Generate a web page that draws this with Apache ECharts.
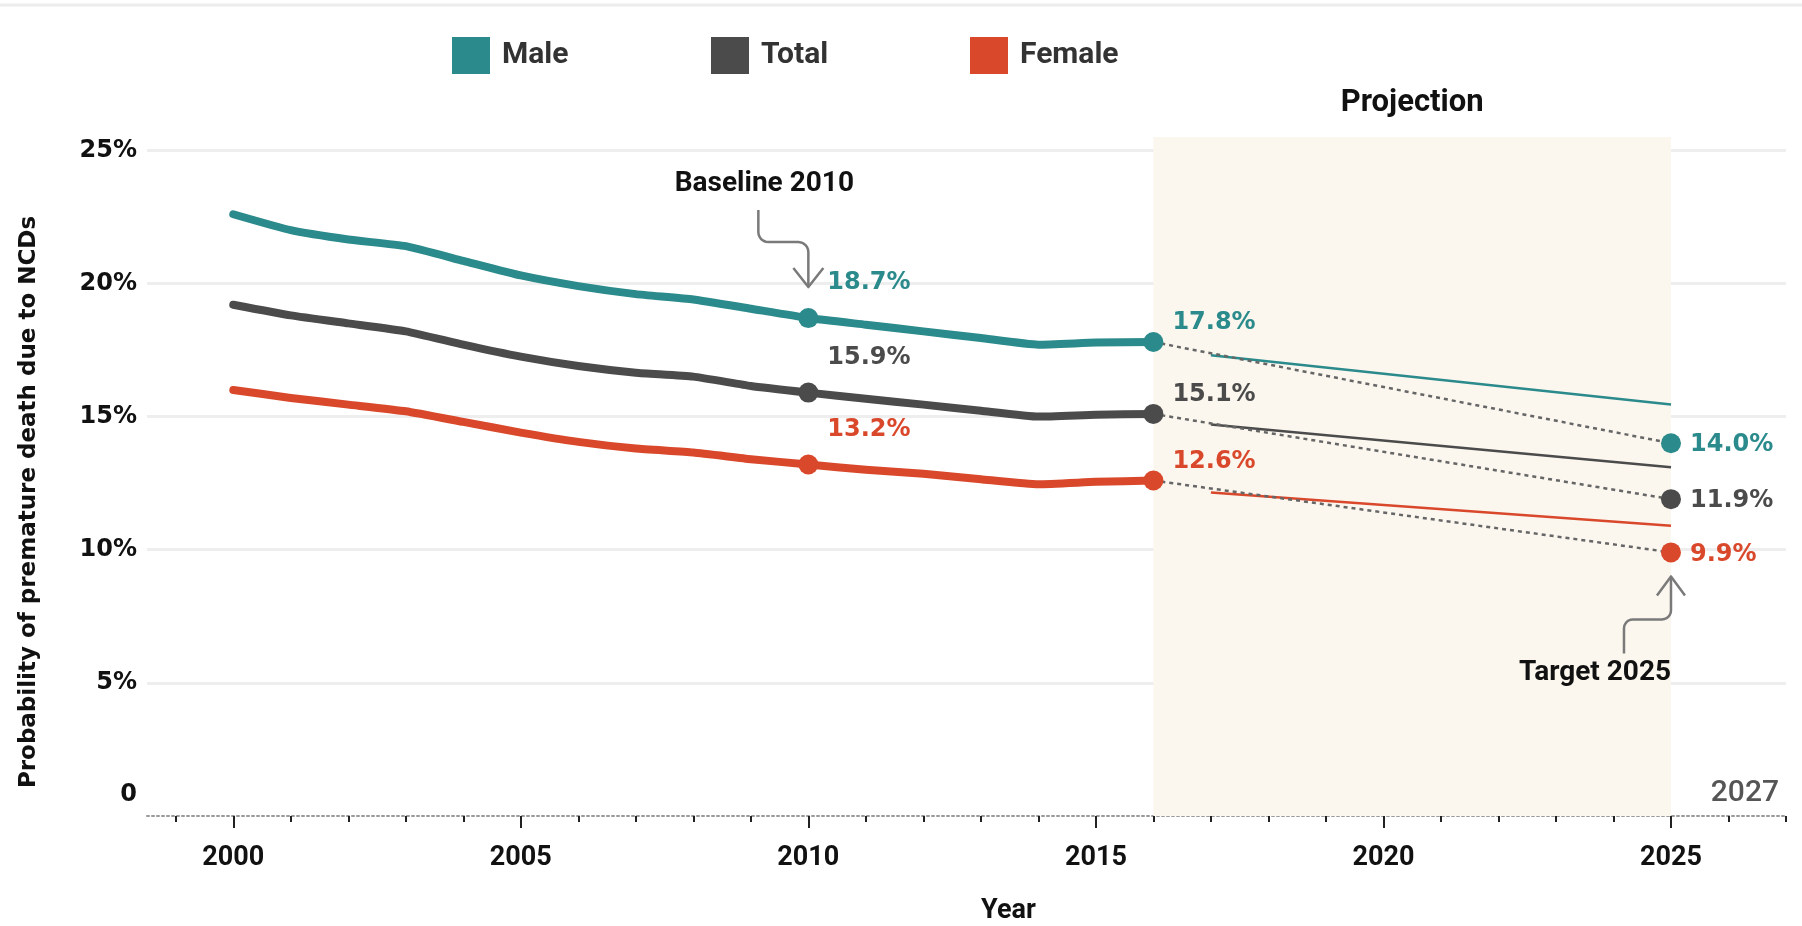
<!DOCTYPE html>
<html>
<head>
<meta charset="utf-8">
<script src="https://cdn.jsdelivr.net/npm/echarts@6/dist/echarts.min.js"></script>
<style>
html,body{margin:0;padding:0;background:#fff;}
#chart{width:1802px;height:926px;}
</style>
</head>
<body>
<div id="chart"></div>
<script>
// ---- data ----
const years = [2000,2001,2002,2003,2004,2005,2006,2007,2008,2009,2010,2011,2012,2013,2014,2015,2016];
const male   = [22.6,22.0,21.65,21.4,20.85,20.3,19.9,19.6,19.4,19.05,18.7,18.45,18.2,17.95,17.7,17.78,17.8];
const total  = [19.2,18.8,18.5,18.2,17.7,17.25,16.9,16.65,16.5,16.15,15.9,15.67,15.45,15.22,15.0,15.07,15.1];
const female = [16.0,15.7,15.45,15.2,14.8,14.4,14.05,13.8,13.65,13.4,13.2,13.0,12.85,12.65,12.46,12.55,12.6];
const projYears   = [2017, 2025];
const maleProj    = [17.3, 15.45];
const totalProj   = [14.7, 13.1];
const femaleProj  = [12.15, 10.9];
const markYears   = [2010, 2016, 2025];
const maleMarks   = [18.7, 17.8, 14.0];
const totalMarks  = [15.9, 15.1, 11.9];
const femaleMarks = [13.2, 12.6, 9.9];
const projStart = 2016, projEnd = 2025;
const majorYears = [2000,2005,2010,2015,2020,2025];
const minorYears = [1999,2001,2002,2003,2004,2006,2007,2008,2009,2011,2012,2013,2014,2016,2017,2018,2019,2021,2022,2023,2024,2026,2027];
const seriesNames = ['Male','Total','Female'];
const colors = {Male:'#2b8a8b', Total:'#4b4b4b', Female:'#d9482b'};

const COND = 'Roboto';
const WIDE = '"DejaVu Sans"';

const chart = echarts.init(document.getElementById('chart'));

function pairs(xs, ys){ return xs.map((x,i)=>[x, ys[i]]); }

const histData = {Male:male, Total:total, Female:female};
const projData = {Male:maleProj, Total:totalProj, Female:femaleProj};
const markData = {Male:maleMarks, Total:totalMarks, Female:femaleMarks};
const labelOffsets = [[0,-35],[0,-19],[0,2]];

const series = [];
// shaded projection area
series.push({
  name:'proj-area', type:'line', data:[], z:1, silent:true,
  markArea:{
    silent:true,
    itemStyle:{color:'#fbf7ef'},
    label:{show:true, position:'top', distance:18, color:'#111',
      fontFamily:COND, fontWeight:'bold', fontSize:31},
    data:[[{name:'Projection', xAxis:projStart},{xAxis:projEnd}]]
  }
});
seriesNames.forEach(n=>{
  series.push({
    name:n, type:'line', color:colors[n], z:4,
    data:pairs(years, histData[n]), symbol:'none', smooth:0.15,
    lineStyle:{width:8, color:colors[n], cap:'round', join:'round'}
  });
  series.push({
    name:n+' projection', type:'line', z:3,
    data:pairs(projYears, projData[n]), symbol:'none',
    lineStyle:{width:2.5, color:colors[n]}
  });
  const m = markData[n];
  series.push({
    name:n+' target path', type:'line', z:3,
    data:[[markYears[1], m[1]],[markYears[2], m[2]]], symbol:'none',
    lineStyle:{width:2.5, color:'#666', type:[4,4]}
  });
  series.push({
    name:n+' points', type:'scatter', z:5,
    symbolSize:20, itemStyle:{color:colors[n], opacity:1},
    data:markYears.map((y,i)=>({value:[y, m[i]], label:{offset:labelOffsets[i]}})),
    label:{show:true, position:'right', distance:9, color:colors[n],
      fontFamily:WIDE, fontWeight:'bold', fontSize:24,
      formatter:p=>p.value[1].toFixed(1)+'%'}
  });
});

const legendBase = {
  top:37, itemWidth:38, itemHeight:37, icon:'rect', itemGap:0, padding:0,
  textStyle:{fontFamily:COND, fontWeight:'bold', fontSize:30, color:'#333', padding:[4,0,0,7]}
};
const legendLefts = [452, 711, 970];

chart.setOption({
  animation:false,
  backgroundColor:'#fff',
  legend: seriesNames.map((n,i)=>Object.assign({}, legendBase, {data:[n], left:legendLefts[i]})),
  grid:{left:147, right:16, top:137, bottom:110, containLabel:false, outerBoundsMode:'none'},
  xAxis:[
    {type:'value', min:1998.5, max:2027,
      axisLine:{show:true, lineStyle:{color:'#9a9a9a', type:[2,3], width:2}},
      axisTick:{show:true, customValues:majorYears, length:12, lineStyle:{color:'#222', width:2}},
      axisLabel:{customValues:majorYears, margin:29, color:'#111',
        fontFamily:COND, fontWeight:'bold', fontSize:27, formatter:v=>String(v)},
      splitLine:{show:false},
      name:'Year', nameLocation:'middle', nameGap:82,
      nameTextStyle:{fontFamily:COND, fontWeight:'bold', fontSize:27, color:'#111', padding:[0,0,0,84]}
    },
    {type:'value', min:1998.5, max:2027, position:'bottom',
      axisLine:{show:false},
      axisTick:{show:true, customValues:minorYears, length:6, lineStyle:{color:'#222', width:2}},
      axisLabel:{show:false}, splitLine:{show:false}
    }
  ],
  yAxis:{type:'value', min:0, max:25.5, interval:5,
    axisLine:{show:false}, axisTick:{show:false},
    axisLabel:{margin:10, color:'#111', fontFamily:WIDE, fontWeight:'bold', fontSize:24,
      formatter:v=> v===0 ? '{z|0}' : (v%5===0 ? v+'%' : ''),
      rich:{z:{fontFamily:WIDE, fontWeight:'bold', fontSize:24, color:'#111', padding:[0,0,42,0]}}},
    splitLine:{show:true, showMinLine:false, showMaxLine:false, lineStyle:{color:'#eeeeee', width:3}}
  },
  series:series
});

// ---- annotations positioned through the chart's own scales ----
function arc(cx, cy, r, a0, a1, n){
  const pts=[]; for(let k=0;k<=n;k++){const a=(a0+(a1-a0)*k/n)*Math.PI/180; pts.push([cx+r*Math.cos(a), cy+r*Math.sin(a)]);} return pts;
}
const base = chart.convertToPixel({gridIndex:0}, [markYears[0], maleMarks[0]]);
const targ = chart.convertToPixel({gridIndex:0}, [markYears[2], femaleMarks[2]]);
const corner = chart.convertToPixel({gridIndex:0}, [2027, 0]);

const baseShaft = [[-50,-108]].concat(arc(-40,-86,10,180,90,6)).concat(arc(-10,-66,10,-90,0,6)).concat([[0,-32]]);
const targShaft = [[-47,101]].concat(arc(-38,76,9,180,270,6)).concat(arc(-9,58,9,90,0,6)).concat([[0,25]]);
const arrowStyle = {stroke:'#7a7a7a', lineWidth:2.5, fill:null, lineJoin:'round'};

chart.setOption({
  graphic:[
    {type:'line', z:10, shape:{x1:0,y1:5,x2:1802,y2:5}, style:{stroke:'#ececec', lineWidth:3}},
    {type:'polyline', z:10, x:base[0], y:base[1], shape:{points:baseShaft}, style:arrowStyle},
    {type:'polyline', z:10, x:base[0], y:base[1], shape:{points:[[-15,-50],[0,-31],[15,-50]]}, style:arrowStyle},
    {type:'text', z:10, x:base[0]-44, y:base[1]-134, style:{text:'Baseline 2010', font:'bold 28px '+COND, fill:'#111', textAlign:'center', textVerticalAlign:'middle', align:'center', verticalAlign:'middle'}},
    {type:'polyline', z:10, x:targ[0], y:targ[1], shape:{points:targShaft}, style:arrowStyle},
    {type:'polyline', z:10, x:targ[0], y:targ[1], shape:{points:[[-14,43],[0,24],[14,43]]}, style:arrowStyle},
    {type:'text', z:10, x:targ[0]-76, y:targ[1]+121, style:{text:'Target 2025', font:'bold 28px '+COND, fill:'#111', textAlign:'center', textVerticalAlign:'middle', align:'center', verticalAlign:'middle'}},
    {type:'text', z:10, x:corner[0]-7, y:corner[1]-23, style:{text:'2027', font:'500 30px '+COND, fill:'#555', textAlign:'right', textVerticalAlign:'middle', align:'right', verticalAlign:'middle'}},
    {type:'text', z:10, x:29, y:502, rotation:Math.PI/2, style:{text:'Probability of premature death due to NCDs', font:'bold 23px '+WIDE, fill:'#111', textAlign:'center', textVerticalAlign:'middle', align:'center', verticalAlign:'middle'}}
  ]
});
</script>
</body>
</html>
